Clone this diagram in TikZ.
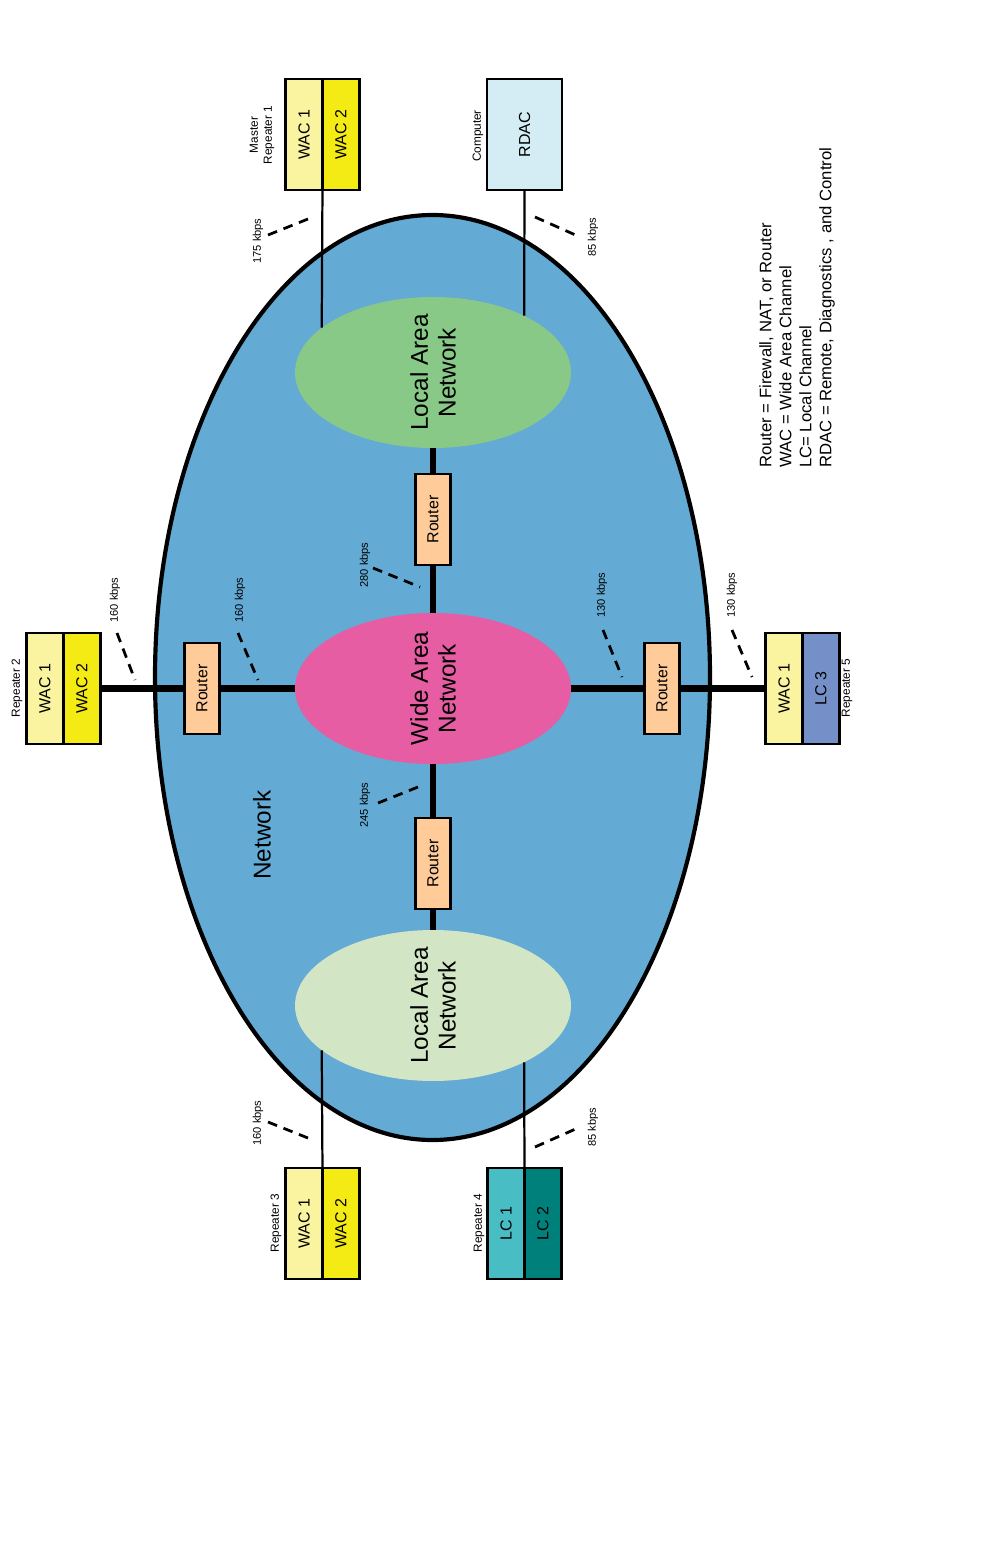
\documentclass[tikz,border=0pt]{standalone}
\usepackage{fontspec}
\setmainfont{Liberation Sans}
\usepackage{xcolor}
\definecolor{netblue}{RGB}{99,170,212}
\definecolor{wanpink}{RGB}{231,93,163}
\definecolor{langreen}{RGB}{136,201,136}
\definecolor{lanpale}{RGB}{210,230,198}
\definecolor{routerpeach}{RGB}{255,204,153}
\definecolor{wacpale}{RGB}{250,243,160}
\definecolor{wacyel}{RGB}{245,235,20}
\definecolor{rdacblue}{RGB}{212,236,244}
\definecolor{lcteal}{RGB}{72,190,196}
\definecolor{lcdark}{RGB}{0,128,122}
\definecolor{lcblue}{RGB}{117,144,201}
\usepackage{tikz}
\usetikzlibrary{shapes.geometric,positioning}
\newcommand{\vlab}[1]{\rotatebox{90}{#1}}

\begin{document}
\begin{tikzpicture}[x=0.72pt,y=-0.72pt,
  chan/.style={draw,line width=1.8pt,outer sep=0pt,inner sep=0pt,minimum width=26.6pt,minimum height=80pt,font=\fontsize{11.5}{13}\selectfont},
  router/.style={chan,fill=routerpeach,minimum width=25pt,minimum height=65.5pt},
  cloud/.style={ellipse,inner sep=0pt,minimum width=198.7pt,minimum height=108.7pt},
  bigtxt/.style={rotate=90,align=center,font=\fontsize{17.5}{20}\selectfont},
  rate/.style={rotate=90,font=\fontsize{8}{9}\selectfont},
  tag/.style={rotate=90,align=center,font=\fontsize{8.5}{10}\selectfont},
  rateline/.style={line width=2pt,dash pattern=on 7pt off 5pt},
  thinlink/.style={line width=1.6pt},
  thicklink/.style={line width=5pt}]
\useasboundingbox (0,0) rectangle (997,1564);
% ---- network ----
\node[ellipse,draw,line width=3pt,fill=netblue,minimum width=399.6pt,minimum height=666pt] (net) at (432.5,677.5) {};
\node[bigtxt] (nettxt) at (262,835) {Network};
\node[cloud,fill=langreen] (lanA) at (433,372.5) {};
\node[cloud,fill=wanpink] (wan) at (433,688.5) {};
\node[cloud,fill=lanpale] (lanB) at (433,1005.5) {};
\node[bigtxt] (lanAtxt) at (lanA) {Local Area\\Network};
\node[bigtxt] (wantxt) at (wan) {Wide Area\\Network};
\node[bigtxt] (lanBtxt) at (lanB) {Local Area\\Network};
% ---- routers ----
\node[router] (rtT) at (433,519.5) {\vlab{Router}};
\node[router] (rtB) at (433,863.5) {\vlab{Router}};
\node[router] (rtL) at (202,688.5) {\vlab{Router}};
\node[router] (rtR) at (662,688.5) {\vlab{Router}};
% ---- repeaters ----
\node[chan,fill=wacpale] (m1a) at (304,134.5) {\vlab{WAC 1}};
\node[chan,fill=wacyel,right=0pt of m1a] (m1b) {\vlab{WAC 2}};
\node[chan,fill=rdacblue,minimum width=54pt] (rdac) at (524.5,134.5) {\vlab{RDAC}};
\node[chan,fill=wacpale] (r2a) at (45,688.5) {\vlab{WAC 1}};
\node[chan,fill=wacyel,right=0pt of r2a] (r2b) {\vlab{WAC 2}};
\node[chan,fill=wacpale] (r5a) at (784,688.5) {\vlab{WAC 1}};
\node[chan,fill=lcblue,right=0pt of r5a] (r5b) {\vlab{LC 3}};
\node[chan,fill=wacpale] (r3a) at (304,1223.5) {\vlab{WAC 1}};
\node[chan,fill=wacyel,right=0pt of r3a] (r3b) {\vlab{WAC 2}};
\node[chan,fill=lcteal] (r4a) at (506,1223.5) {\vlab{LC 1}};
\node[chan,fill=lcdark,right=0pt of r4a] (r4b) {\vlab{LC 2}};
\node[tag] (m1tag) at (262,135) {Master\\Repeater 1};
\node[tag] (pctag) at (478,136) {Computer};
\node[tag] (r2tag) at (17,688) {Repeater 2};
\node[tag] (r5tag) at (847,688) {Repeater 5};
\node[tag] (r3tag) at (276,1223) {Repeater 3};
\node[tag] (r4tag) at (479,1223) {Repeater 4};
% ---- links ----
\draw[thinlink] (m1a.south east) -- (lanA.158);
\draw[thinlink] (rdac.south) -- (lanA.32);
\draw[thinlink] (lanB.202) -- (r3a.north east);
\draw[thinlink] (lanB.328) -- (r4a.north east);
\draw[thicklink] (r2b.east) -- (rtL.west);
\draw[thicklink] (rtL.east) -- (wan.west);
\draw[thicklink] (wan.east) -- (rtR.west);
\draw[thicklink] (rtR.east) -- (r5a.west);
\draw[thicklink] (lanA.south) -- (rtT.north);
\draw[thicklink] (rtT.south) -- (wan.north);
\draw[thicklink] (wan.south) -- (rtB.north);
\draw[thicklink] (rtB.south) -- (lanB.north);
% ---- rates ----
\node[rate] (k175) at (258,241) {175 kbps}; \draw[rateline] (268,235) -- (313,217);
\node[rate] (k85a) at (593,237) {85 kbps}; \draw[rateline] (535,217) -- (580,237);
\node[rate] (k160a) at (115,600) {160 kbps}; \draw[rateline] (117,633) -- (135,680);
\node[rate] (k160b) at (240,600) {160 kbps}; \draw[rateline] (238,633) -- (258,680);
\node[rate] (k280) at (365,565) {280 kbps}; \draw[rateline] (373,568) -- (420,587);
\node[rate] (k245) at (365,805) {245 kbps}; \draw[rateline] (378,803) -- (423,785);
\node[rate] (k130a) at (602,595) {130 kbps}; \draw[rateline] (603,630) -- (622,677);
\node[rate] (k130b) at (732,595) {130 kbps}; \draw[rateline] (732,630) -- (752,677);
\node[rate] (k160c) at (258,1123) {160 kbps}; \draw[rateline] (268,1122) -- (313,1140);
\node[rate] (k85b) at (593,1127) {85 kbps}; \draw[rateline] (535,1147) -- (580,1127);
% ---- legend ----
\node[rotate=90,anchor=north west,align=left,inner sep=0pt,font=\fontsize{12}{14.4}\selectfont] (legend) at (759,468) {Router = Firewall, NAT, or Router\\WAC = Wide Area Channel\\LC= Local Channel\\RDAC = Remote, Diagnostics , and Control};
\end{tikzpicture}
\end{document}
